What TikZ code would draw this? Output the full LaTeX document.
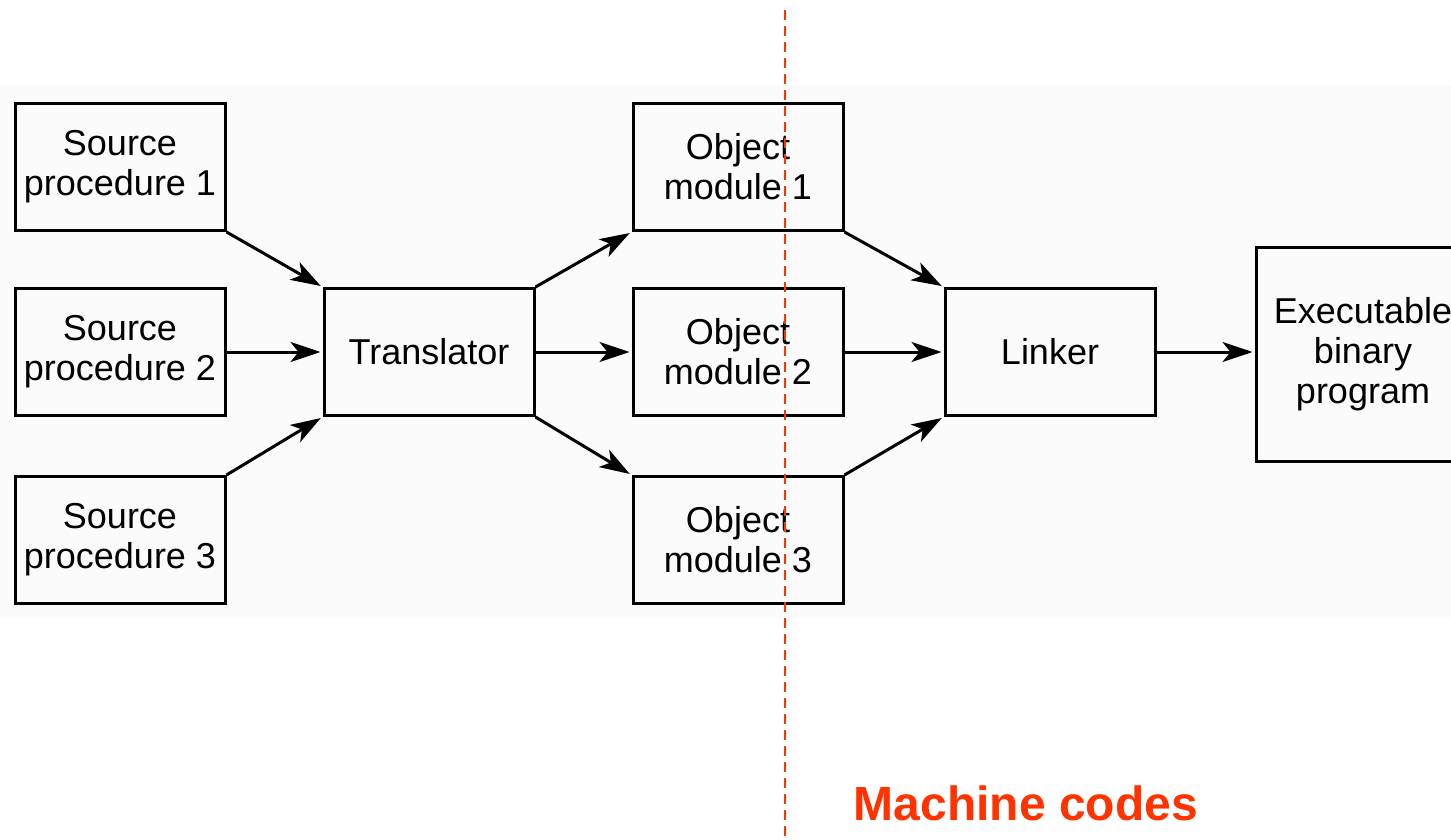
\documentclass[tikz,border=0pt]{standalone}
\usepackage{fontspec}
\setmainfont{Liberation Sans}
\usetikzlibrary{arrows.meta}
\definecolor{machred}{RGB}{255,51,0}
\tikzset{
    stagebox/.style={draw, line width=1.5pt, minimum width=105pt, minimum height=63.5pt, align=center, inner sep=0pt, font=\fontsize{18}{20}\selectfont},
    flow/.style={line width=1.5pt, -{Stealth[length=15pt, width=10pt, inset=4pt]}, shorten >=1pt}
}
\begin{document}
\begin{tikzpicture}[x=0.5pt, y=-0.5pt]
    \useasboundingbox (0,0) rectangle (1451,840);
    \fill[black!1.5] (0,85) rectangle (1451,618); % faint page band

    % Source procedures
    \node[stagebox] (src1) at (120,167) {Source\\procedure 1};
    \node[stagebox] (src2) at (120,352) {Source\\procedure 2};
    \node[stagebox] (src3) at (120,540) {Source\\procedure 3};

    \node[stagebox] (trans) at (429,352) {Translator};

    % Object modules
    \node[stagebox] (obj1) at (738,167) {Object\\module 1};
    \node[stagebox] (obj2) at (738,352) {Object\\module 2};
    \node[stagebox] (obj3) at (738,540) {Object\\module 3};

    \node[stagebox] (link) at (1050,352) {Linker};
    \node[stagebox, minimum width=107pt, minimum height=107pt] (exec) at (1363,354) {Executable\\binary\\program};

    \draw[flow] (src1.south east) -- (trans.north west);
    \draw[flow] (src2.east) -- (trans.west);
    \draw[flow] (src3.north east) -- (trans.south west);
    \draw[flow] (trans.north east) -- (obj1.south west);
    \draw[flow] (trans.east) -- (obj2.west);
    \draw[flow] (trans.south east) -- (obj3.north west);
    \draw[flow] (obj1.south east) -- (link.north west);
    \draw[flow] (obj2.east) -- (link.west);
    \draw[flow] (obj3.north east) -- (link.south west);
    \draw[flow] (link.east) -- (exec.west |- link.east);

    % Machine code boundary
    \coordinate (cuttop) at (785,10);
    \coordinate (cutbot) at (785,840);
    \draw[machred, line width=1pt, dash pattern=on 5pt off 3pt] (cuttop) -- (cutbot);
    \node[text=machred, font=\fontsize{24}{26}\selectfont\bfseries] (mcodes) at (1026,803) {Machine codes};
\end{tikzpicture}
\end{document}
